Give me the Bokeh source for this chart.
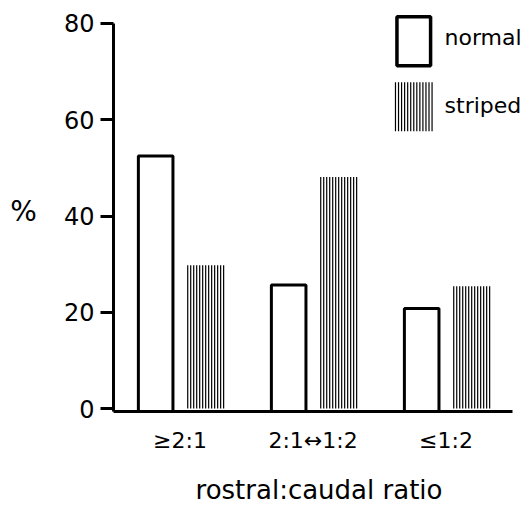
import numpy as np
from bokeh.plotting import figure
from bokeh.models import Range1d, FixedTicker, ColumnDataSource
from bokeh.core.properties import value
from bokeh.embed import file_html
from bokeh.resources import INLINE

# ---- data ----
categories = ["≥2:1", "2:1↔1:2", "≤1:2"]
normal = [52.5, 25.7, 20.8]
striped = [29.8, 48.1, 25.4]
y_ticks = [0, 20, 40, 60, 80]
series_names = ["normal", "striped"]
x_title = "rostral:caudal ratio"
y_title = "%"

FONT = "DejaVu Sans"

# ---- layout constants ----
N_STRIPES = 13
W_NORMAL, W_STRIPED = 0.26, 0.27
OFF_NORMAL, OFF_STRIPED = -0.183, 0.193

xpos = np.arange(len(categories)) + 0.5

p = figure(width=524, height=508,
           x_range=Range1d(0, 3.09),
           y_range=Range1d(-0.6, 82.7),
           output_backend="svg", toolbar_location=None,
           min_border_left=113, min_border_right=0,
           min_border_top=10, min_border_bottom=97)

p.background_fill_color = "white"
p.border_fill_color = "white"
p.outline_line_color = None
p.xgrid.grid_line_color = None
p.ygrid.grid_line_color = None

base = p.y_range.start

# normal bars (open boxes)
src_n = ColumnDataSource(dict(x=xpos + OFF_NORMAL, top=normal))
p.vbar(x="x", top="top", bottom=base, width=W_NORMAL, source=src_n,
       fill_color="white", line_color="black", line_width=3)

# striped bars (vertical line fill)
offs = np.linspace(-W_STRIPED / 2, W_STRIPED / 2, N_STRIPES)
sx, sy1 = [], []
for xc, t in zip(xpos + OFF_STRIPED, striped):
    for o in offs:
        sx.append(xc + o)
        sy1.append(t)
src_s = ColumnDataSource(dict(x=sx, y0=[0] * len(sx), y1=sy1))
p.segment(x0="x", y0="y0", x1="x", y1="y1", source=src_s,
          line_color="black", line_width=1.2, line_alpha=1.0)

# ---- legend (drawn in plot space) ----
LEG_X0, LEG_X1 = 2.12, 2.395
NORM_Y0, NORM_Y1 = 71.2, 81.4
STR_Y0, STR_Y1 = 57.6, 67.8
p.quad(left=[LEG_X0 + 0.011], right=[LEG_X1 - 0.011], bottom=[NORM_Y0], top=[NORM_Y1],
       fill_color="white", line_color="black", line_width=3.5)
loffs = np.linspace(LEG_X0, LEG_X1, N_STRIPES)
p.segment(x0=loffs, y0=[STR_Y0] * N_STRIPES, x1=loffs, y1=[STR_Y1] * N_STRIPES,
          line_color="black", line_width=1.2, line_alpha=1.0)
p.text(x=[2.489, 2.489], y=[77.0, 63.0], text=series_names,
       text_font=value(FONT), text_font_size="22px", text_color="black",
       text_baseline="middle", text_align="left")

# ---- y axis ----
ya = p.yaxis[0]
ya.ticker = FixedTicker(ticks=y_ticks)
ya.bounds = (p.y_range.start, y_ticks[-1])
ya.axis_line_width = 3
ya.major_tick_line_width = 3
ya.major_tick_out = 13
ya.major_tick_in = 0
ya.minor_tick_line_color = None
ya.major_label_standoff = 6
ya.major_label_text_font = FONT
ya.major_label_text_font_size = "24px"
ya.major_label_text_color = "black"
ya.axis_label = y_title
ya.axis_label_orientation = "horizontal"
ya.axis_label_text_font = FONT
ya.axis_label_text_font_size = "28px"
ya.axis_label_text_font_style = "normal"
ya.axis_label_text_color = "black"
ya.axis_label_standoff = 24

# ---- x axis ----
xa = p.xaxis[0]
xa.ticker = FixedTicker(ticks=list(xpos))
xa.major_label_overrides = {float(x): c for x, c in zip(xpos, categories)}
xa.bounds = (0, len(categories))
xa.axis_line_width = 3
xa.major_tick_line_color = None
xa.minor_tick_line_color = None
xa.major_tick_out = 0
xa.major_tick_in = 0
xa.major_label_standoff = 16
xa.major_label_text_font = FONT
xa.major_label_text_font_size = "22px"
xa.major_label_text_color = "black"
xa.axis_label = x_title
xa.axis_label_text_font = FONT
xa.axis_label_text_font_size = "26px"
xa.axis_label_text_font_style = "normal"
xa.axis_label_text_color = "black"
xa.axis_label_text_baseline = "alphabetic"
xa.axis_label_standoff = 19

open("out.html", "w").write(file_html(p, INLINE))
